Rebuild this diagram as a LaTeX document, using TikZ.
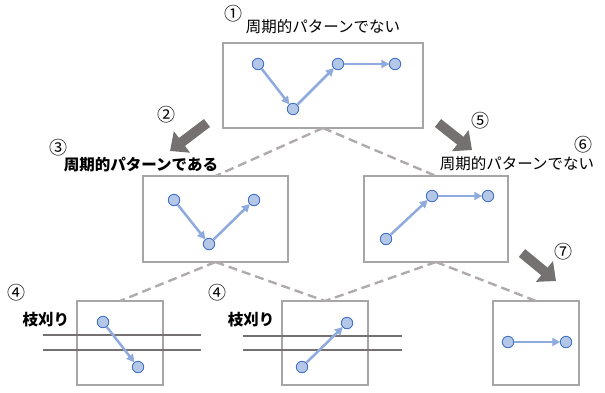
\documentclass[tikz,border=0pt]{standalone}
\usepackage{fontspec}
\setmainfont{Noto Sans CJK JP}
\usetikzlibrary{arrows.meta}
\definecolor{boxgray}{HTML}{A6A6A6}
\definecolor{dashgray}{HTML}{AFABAB}
\definecolor{bigarrow}{HTML}{767171}
\definecolor{nodefill}{HTML}{B4C7E7}
\definecolor{nodeline}{HTML}{4472C4}
\definecolor{edgeblue}{HTML}{8FAADC}
\definecolor{barline}{HTML}{767171}
\tikzset{
  panel/.style={draw=boxgray, line width=1.6pt, minimum width=#1, inner sep=0pt, outer sep=0pt},
  vtx/.style={circle, draw=nodeline, fill=nodefill, line width=0.9pt, minimum size=11.5pt, inner sep=0pt},
  edg/.style={draw=edgeblue, line width=2.5pt, -{Triangle[length=8pt,width=8pt]}, shorten >=-0.5pt},
  tree/.style={draw=dashgray, line width=2.4pt, dash pattern=on 9pt off 5pt},
  fat/.style={draw=bigarrow, line width=10pt, -{Triangle[length=15pt,width=26pt]}},
  bar/.style={draw=barline, line width=2.5pt},
  lbl/.style={font=\fontsize{15.5}{18}\selectfont, inner sep=0pt},
  blbl/.style={font=\fontsize{15.5}{18}\selectfont\bfseries, inner sep=0pt},
  num/.style={font=\fontsize{18}{19}\selectfont, inner sep=0pt}
}
\begin{document}
\begin{tikzpicture}[x=1pt,y=-1pt]
\useasboundingbox (0,0) rectangle (605,392);
% panels
\node[panel=200pt, minimum height=85pt] (p1) at (323,85.5) {};
\node[panel=145pt, minimum height=86pt] (p2) at (215.5,219) {};
\node[panel=144pt, minimum height=86pt] (p3) at (436,219) {};
\node[panel=86pt, minimum height=84pt] (p4) at (120,343) {};
\node[panel=86pt, minimum height=84pt] (p5) at (325,343) {};
\node[panel=86pt, minimum height=84pt] (p6) at (536,343) {};
% tree dashed links
\draw[tree] (p1.south) -- (p2.north);
\draw[tree] (p1.south) -- (p3.north);
\draw[tree] (p2.south) -- (p4.north);
\draw[tree] (p2.south) -- (p5.north);
\draw[tree] (p3.south) -- (p5.north);
\draw[tree] (p3.south) -- (p6.north);
% pruning bars
\coordinate (b1a) at (43,335); \coordinate (b1b) at (201,335);
\coordinate (b2a) at (43,350); \coordinate (b2b) at (201,350);
\coordinate (b3a) at (243,336); \coordinate (b3b) at (402,336);
\coordinate (b4a) at (243,350); \coordinate (b4b) at (402,350);
\draw[bar] (b1a) -- (b1b);
\draw[bar] (b2a) -- (b2b);
\draw[bar] (b3a) -- (b3b);
\draw[bar] (b4a) -- (b4b);
% vertices panel 1
\node[vtx] (a1) at (258,64) {};
\node[vtx] (a2) at (293,109) {};
\node[vtx] (a3) at (338,64) {};
\node[vtx] (a4) at (395,64) {};
% panel 2
\node[vtx] (c1) at (174,200) {};
\node[vtx] (c2) at (209,244) {};
\node[vtx] (c3) at (254,200) {};
% panel 3
\node[vtx] (d1) at (386,239) {};
\node[vtx] (d2) at (432,196) {};
\node[vtx] (d3) at (488,196) {};
% panel 4
\node[vtx] (e1) at (103,322) {};
\node[vtx] (e2) at (138,367) {};
% panel 5
\node[vtx] (f1) at (302,367) {};
\node[vtx] (f2) at (347,323) {};
% panel 6
\node[vtx] (g1) at (508,342) {};
\node[vtx] (g2) at (566,342) {};
% edges
\draw[edg] (a1) -- (a2);
\draw[edg] (a2) -- (a3);
\draw[edg] (a3) -- (a4);
\draw[edg] (c1) -- (c2);
\draw[edg] (c2) -- (c3);
\draw[edg] (d1) -- (d2);
\draw[edg] (d2) -- (d3);
\draw[edg] (e1) -- (e2);
\draw[edg] (f1) -- (f2);
\draw[edg] (g1) -- (g2);
% big arrows
\coordinate (t2) at (207,123); \coordinate (h2) at (170,151);
\coordinate (t5) at (438,123); \coordinate (h5) at (472,150);
\coordinate (t7) at (522,253); \coordinate (h7) at (556,281);
\draw[fat] (t2) -- (h2);
\draw[fat] (t5) -- (h5);
\draw[fat] (t7) -- (h7);
% labels
\node[num] (n1) at (233,14) {①};
\node[lbl] (l1) at (323,27) {周期的パターンでない};
\node[num] (n2) at (166,115) {②};
\node[num] (n3) at (58,148) {③};
\node[blbl] (l3) at (141,165) {周期的パターンである};
\node[num] (n5) at (480,121) {⑤};
\node[num] (n6) at (583,145) {⑥};
\node[lbl] (l6) at (517,164) {周期的パターンでない};
\node[num] (n4a) at (17,293) {④};
\node[blbl] (l4a) at (46,320) {枝刈り};
\node[num] (n4b) at (217,293) {④};
\node[blbl] (l4b) at (251,320) {枝刈り};
\node[num] (n7) at (563,252) {⑦};
\end{tikzpicture}
\end{document}
